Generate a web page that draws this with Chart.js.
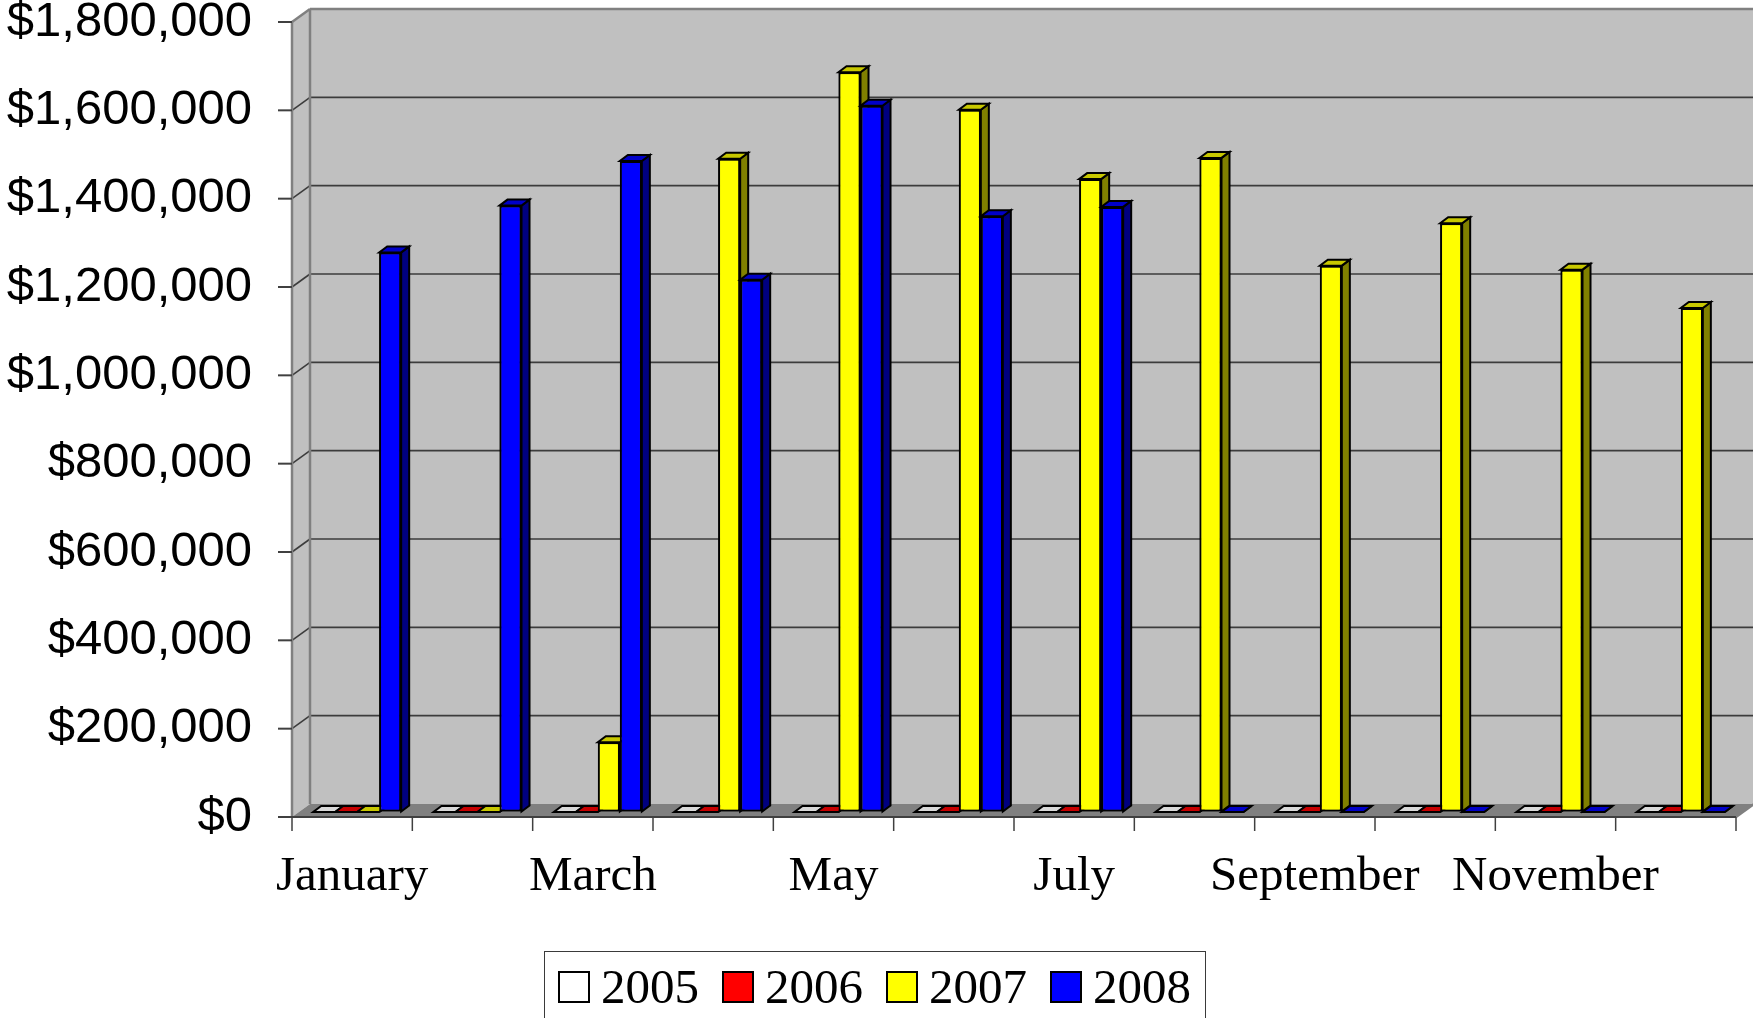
<!DOCTYPE html>
<html>
<head>
<meta charset="utf-8">
<script src="https://cdn.jsdelivr.net/npm/chart.js@4.4.0/dist/chart.umd.min.js"></script>
<style>
  html, body { margin: 0; padding: 0; background: #fff; overflow: hidden; }
  #wrap { position: relative; width: 1753px; height: 1018px; overflow: hidden; }
  #chart { display: block; }
  #legend {
    position: absolute; left: 544px; top: 951px; width: 662px; height: 100px;
    box-sizing: border-box; border: 1.5px solid #3a3a3a; background: #fff;
    display: flex; align-items: flex-start; padding: 19px 0 0 13px;
  }
  .legend-item { display: flex; align-items: center; margin-right: 23px; }
  .legend-box { width: 32px; height: 32px; box-sizing: border-box; border: 2px solid #000; }
  .legend-text {
    margin-left: 11px; font-family: "Liberation Serif", "Times New Roman", serif;
    font-size: 49px; line-height: 32px; color: #000;
  }
</style>
</head>
<body>
<div id="wrap">
  <canvas id="chart" width="1753" height="1018"></canvas>
  <div id="legend"></div>
</div>
<script>
const MONTHS = ["January", "February", "March", "April", "May", "June",
  "July", "August", "September", "October", "November", "December"];
const SERIES_LABELS = ["2005", "2006", "2007", "2008"];
const SALES_2005 = [0, 0, 0, 0, 0, 0, 0, 0, 0, 0, 0, 0];
const SALES_2006 = [0, 0, 0, 0, 0, 0, 0, 0, 0, 0, 0, 0];
const SALES_2007 = [0, 0, 158000, 1479000, 1675000, 1590000, 1433000, 1481000, 1237000, 1333000, 1228000, 1141000];
const SALES_2008 = [1267000, 1373000, 1474000, 1205000, 1599000, 1349000, 1370000, 0, 0, 0, 0, 0];
const Y_MAX = 1800000;
const Y_STEP = 200000;

const FRONT_COLORS = ["#ffffff", "#ff0000", "#ffff00", "#0000ff"];
const TOP_COLORS = ["#d9d9d9", "#c80000", "#c8c800", "#0000c8"];
const SIDE_COLORS = ["#808080", "#800000", "#808000", "#000080"];

// offsets from the plane the bars stand in
const BACK = { dx: 13, dy: -8 };
const FRONT = { dx: -5, dy: 5 };
const BAR_DEPTH = { dx: 8, dy: -6 };

function poly(ctx, pts, fill, stroke, width) {
  ctx.beginPath();
  ctx.moveTo(pts[0][0], pts[0][1]);
  for (const p of pts.slice(1)) ctx.lineTo(p[0], p[1]);
  ctx.closePath();
  if (fill) {
    ctx.fillStyle = fill;
    ctx.fill();
  }
  if (stroke) {
    ctx.strokeStyle = stroke;
    ctx.lineWidth = width;
    ctx.lineJoin = "miter";
    ctx.stroke();
  }
}

function line(ctx, x1, y1, x2, y2) {
  ctx.beginPath();
  ctx.moveTo(x1, y1);
  ctx.lineTo(x2, y2);
  ctx.stroke();
}

const wallsPlugin = {
  id: "walls",
  beforeDatasetsDraw(chart) {
    const { ctx, chartArea, scales } = chart;
    const xs = scales.x;
    const ys = scales.y;
    const L = chartArea.left;
    const R = chartArea.right;
    const T = ys.getPixelForValue(Y_MAX);
    const Z = ys.getPixelForValue(0);
    const far = R + BACK.dx + 30;

    ctx.save();
    ctx.fillStyle = "#c0c0c0";
    ctx.fillRect(L + BACK.dx, T + BACK.dy, far - L - BACK.dx, Z - T);
    poly(ctx, [[L + FRONT.dx, T + FRONT.dy], [L + BACK.dx, T + BACK.dy],
      [L + BACK.dx, Z + BACK.dy], [L + FRONT.dx, Z + FRONT.dy]], "#c0c0c0");
    poly(ctx, [[L + FRONT.dx, Z + FRONT.dy], [R + FRONT.dx, Z + FRONT.dy],
      [R + BACK.dx, Z + BACK.dy], [L + BACK.dx, Z + BACK.dy]], "#808080");

    ctx.strokeStyle = "#3c3c3c";
    ctx.lineWidth = 1.6;
    for (const t of ys.ticks) {
      if (t.value <= 0 || t.value >= Y_MAX) continue;
      const py = ys.getPixelForValue(t.value);
      line(ctx, L + FRONT.dx, py + FRONT.dy, L + BACK.dx, py + BACK.dy);
      line(ctx, L + BACK.dx, py + BACK.dy, far, py + BACK.dy);
    }

    ctx.strokeStyle = "#808080";
    ctx.lineWidth = 2.5;
    line(ctx, L + FRONT.dx, T + FRONT.dy, L + FRONT.dx, Z + FRONT.dy);
    line(ctx, L + FRONT.dx, T + FRONT.dy, L + BACK.dx, T + BACK.dy);
    line(ctx, L + BACK.dx, T + BACK.dy, far, T + BACK.dy);
    line(ctx, L + BACK.dx, T + BACK.dy, L + BACK.dx, Z + BACK.dy);
    line(ctx, R + FRONT.dx, Z + FRONT.dy, R + BACK.dx, Z + BACK.dy);

    ctx.strokeStyle = "#404040";
    ctx.lineWidth = 2;
    for (const t of ys.ticks) {
      const py = ys.getPixelForValue(t.value);
      line(ctx, L + FRONT.dx - 14, py + FRONT.dy, L + FRONT.dx, py + FRONT.dy);
    }
    line(ctx, L + FRONT.dx, Z + FRONT.dy, R + FRONT.dx, Z + FRONT.dy);
    ctx.lineWidth = 1.5;
    for (let i = 0; i <= MONTHS.length; i++) {
      const px = xs.getPixelForValue(i - 0.5);
      line(ctx, px + FRONT.dx, Z + FRONT.dy, px + FRONT.dx, Z + FRONT.dy + 14);
    }
    ctx.restore();
  },
  afterDatasetsDraw(chart) {
    const ctx = chart.ctx;
    chart.data.datasets.forEach((ds, i) => {
      const meta = chart.getDatasetMeta(i);
      for (const bar of meta.data) {
        bar.draw(ctx);
        const { x, y, base, width } = bar.getProps(["x", "y", "base", "width"], true);
        const l = x - width / 2;
        const r = x + width / 2;
        const top = Math.min(y, base);
        const bot = Math.max(y, base);
        const dx = BAR_DEPTH.dx;
        const dy = BAR_DEPTH.dy;
        ctx.save();
        poly(ctx, [[r, top], [r + dx, top + dy], [r + dx, bot + dy], [r, bot]], SIDE_COLORS[i], "#000", 2);
        poly(ctx, [[l, top], [r, top], [r + dx, top + dy], [l + dx, top + dy]], TOP_COLORS[i], "#000", 2);
        ctx.restore();
      }
    });
  },
};

const seriesData = [SALES_2005, SALES_2006, SALES_2007, SALES_2008];

const chart = new Chart(document.getElementById("chart"), {
  type: "bar",
  data: {
    labels: MONTHS,
    datasets: SERIES_LABELS.map((label, i) => ({
      label,
      data: seriesData[i],
      backgroundColor: FRONT_COLORS[i],
      borderColor: "#000",
      borderWidth: 2,
      borderSkipped: false,
      categoryPercentage: 0.7315,
      barPercentage: 1,
    })),
  },
  options: {
    responsive: false,
    animation: false,
    events: [],
    layout: { padding: { top: 17, right: 12, bottom: 0, left: 0 } },
    plugins: { legend: { display: false }, tooltip: { enabled: false } },
    scales: {
      x: {
        grid: { display: false, drawTicks: false },
        border: { display: false },
        ticks: {
          autoSkip: false,
          maxRotation: 0,
          minRotation: 0,
          padding: 36,
          labelOffset: FRONT.dx,
          color: "#000",
          font: { family: "'Liberation Serif', 'Times New Roman', serif", size: 49 },
          callback(value, index) {
            return index % 2 === 0 ? this.getLabelForValue(value) : "";
          },
        },
        afterFit(scale) {
          scale.height = 206;
        },
      },
      y: {
        min: 0,
        max: Y_MAX,
        grid: {
          display: true,
          drawOnChartArea: false,
          drawTicks: true,
          tickLength: 45,
          color: "transparent",
        },
        border: { display: false },
        ticks: {
          stepSize: Y_STEP,
          padding: 0,
          labelOffset: FRONT.dy,
          color: "#000",
          font: { family: "'Liberation Sans', Arial, sans-serif", size: 49, lineHeight: 0.6 },
          callback: (value) => "$" + value.toLocaleString("en-US"),
        },
        afterFit(scale) {
          scale.width = 297;
        },
      },
    },
  },
  plugins: [wallsPlugin],
});

const legendEl = document.getElementById("legend");
SERIES_LABELS.forEach((label, i) => {
  const item = document.createElement("div");
  item.className = "legend-item";
  item.innerHTML = `<div class="legend-box" style="background:${FRONT_COLORS[i]}"></div><span class="legend-text">${label}</span>`;
  legendEl.appendChild(item);
});
</script>
</body>
</html>
